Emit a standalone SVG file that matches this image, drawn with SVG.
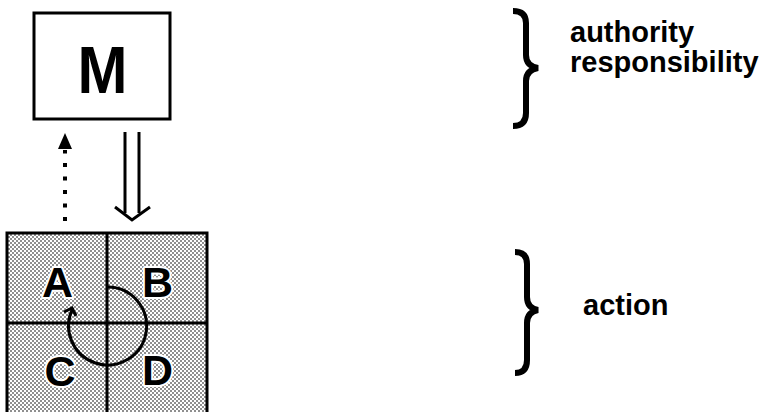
<svg xmlns="http://www.w3.org/2000/svg" width="770" height="412" viewBox="0 0 770 412">
  <defs>
    <pattern id="stipple" width="4" height="4" patternUnits="userSpaceOnUse">
      <rect width="4" height="4" fill="#ffffff"/>
      <circle cx="1" cy="1" r="0.8" fill="#000"/>
      <circle cx="3" cy="3" r="0.8" fill="#000"/>
    </pattern>
  </defs>
  <style>
    .lbl { font-family: "Liberation Sans", Arial, sans-serif; font-weight: bold; fill: #000; }
    .cell { font-size: 43px; text-anchor: middle; stroke: #fff; stroke-width: 4px; paint-order: stroke; stroke-linejoin: round; }
    .side { font-size: 29px; }
    .line { fill: none; stroke: #000; stroke-width: 3; }
    .brace { fill: none; stroke: #000; stroke-width: 6; stroke-linecap: butt; }
  </style>
  <rect width="770" height="412" fill="#fff"/>

  <g id="node-M">
    <rect x="34" y="13" width="136" height="106" fill="#fff" stroke="#000" stroke-width="3"/>
    <text class="lbl" x="102.5" y="93" font-size="67" text-anchor="middle" textLength="50" lengthAdjust="spacingAndGlyphs">M</text>
  </g>

  <g id="node-grid">
    <rect x="7" y="233" width="200" height="183" fill="url(#stipple)" stroke="#000" stroke-width="3"/>
    <line class="line" x1="107" y1="233" x2="107" y2="414"/>
    <line class="line" x1="7" y1="323" x2="207" y2="323"/>
  </g>

  <g id="node-A"><text class="lbl cell" x="57.5" y="297">A</text></g>
  <g id="node-B"><text class="lbl cell" x="157.5" y="297">B</text></g>
  <g id="node-C"><text class="lbl cell" x="60" y="386">C</text></g>
  <g id="node-D"><text class="lbl cell" x="157.5" y="385">D</text></g>

  <g id="connectors">
    <line x1="65" y1="221" x2="65" y2="150" stroke="#000" stroke-width="4" stroke-dasharray="4 9.5"/>
    <path d="M65,133 L72,149 L58,149 Z" fill="#000"/>
    <line class="line" x1="125" y1="132" x2="125" y2="213"/>
    <line class="line" x1="139" y1="132" x2="139" y2="213"/>
    <polyline class="line" points="115,207 132,220 150,207"/>
    <path class="line" stroke-width="2.5" d="M107.5,287 A39,39 0 1 1 73,308"/>
    <polyline class="line" stroke-width="2.5" points="64,312 72,308 76,316"/>
  </g>

  <g id="brace-top">
    <path class="brace" d="M513,11 Q526,11 526,23 L526,55 Q526,66 538,68 Q526,70 526,81 L526,113 Q526,126 513,126"/>
  </g>
  <g id="label-authority"><text class="lbl side" x="570" y="42">authority</text></g>
  <g id="label-responsibility"><text class="lbl side" x="570" y="72">responsibility</text></g>

  <g id="brace-bottom">
    <path class="brace" d="M515,252 Q527,252 527,264 L527,297 Q527,308 538,310 Q527,312 527,323 L527,360 Q527,373 515,373"/>
  </g>
  <g id="label-action"><text class="lbl side" x="583" y="315">action</text></g>
</svg>
